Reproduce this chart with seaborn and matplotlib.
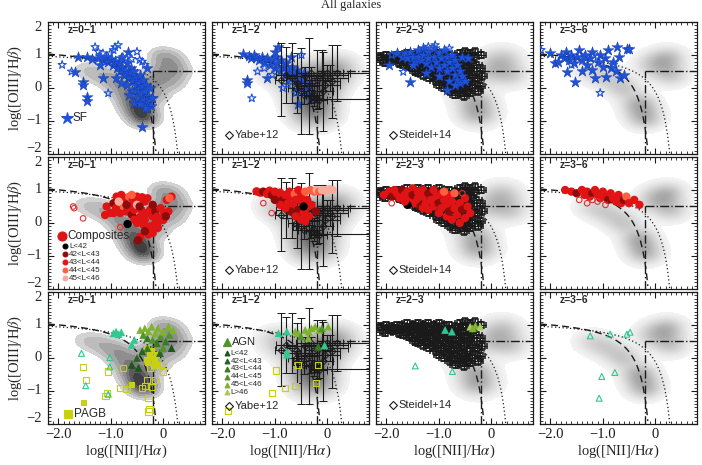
import numpy as np
import matplotlib
matplotlib.use("Agg")
import matplotlib.pyplot as plt
import matplotlib.transforms as mtransforms
import seaborn as sns
from matplotlib.ticker import MultipleLocator, FixedLocator
from matplotlib.colors import LinearSegmentedColormap

# ---------------- data ----------------
z_bins = ["z=0−1", "z=1−2", "z=2−3", "z=3−6"]
y_ticks = [-2, -1, 0, 1, 2]
y_ticklabels = ["−2", "−1", "0", "1", "2"]

# SF galaxies (row 1): filled = detected, open = other
sf_z01 = np.array([[-1.63,0.94],[-1.45,0.93],[-1.35,0.88],[-1.25,0.90],[-1.15,0.85],[-1.10,0.95],[-1.05,0.78],[-1.00,0.88],
    [-0.95,0.70],[-0.92,0.82],[-0.88,0.60],[-0.85,0.75],[-0.82,0.50],[-0.80,0.90],[-0.78,0.65],[-0.75,0.40],[-0.72,0.55],
    [-0.70,0.75],[-0.68,0.30],[-0.65,0.45],[-0.62,0.60],[-0.60,0.20],[-0.58,0.35],[-0.55,0.50],[-0.52,0.10],[-0.50,0.30],
    [-0.48,-0.05],[-0.46,0.15],[-0.44,0.40],[-0.42,-0.20],[-0.40,0.05],[-0.38,0.25],[-0.36,-0.35],[-0.34,-0.10],[-0.32,0.10],
    [-0.30,-0.45],[-0.28,-0.25],[-0.26,0.00],[-0.24,-0.55],[-0.22,-0.30],[-0.50,-0.30],[-0.60,-0.10],[-0.70,0.10],[-0.65,-0.20],
    [-1.53,0.18],[-1.53,0.10],[-1.45,-0.27],[-1.45,-0.38],[-1.68,0.49],[-0.40,-1.17],[-0.30,-0.60],[-0.35,-0.60],[-0.55,-0.45],
    [-0.45,-0.50],[-0.31,0.60],[-0.67,1.10],[-1.15,0.30],[-0.21,-0.30],[-0.90,0.30],[-0.80,0.15],[-1.20,0.70]])
sf_z01_open = np.array([[-1.93,0.70],[-1.30,1.24],[-1.24,1.10],[-1.15,1.05],[-1.01,1.05],[-0.92,1.24],[-0.86,1.30],
    [-0.77,0.94],[-0.70,0.90],[-0.60,0.88],[-0.50,1.10],[-0.45,0.85],[-0.40,0.80],[-1.05,-0.16],[-0.95,1.15],[-1.20,0.95],
    [-0.35,0.70],[-1.75,0.50]])
sf_z12 = np.array([[-1.60,1.04],[-1.50,0.98],[-1.45,0.90],[-1.40,1.00],[-1.35,0.92],[-1.30,0.85],[-1.25,0.95],[-1.20,0.78],
    [-1.15,0.90],[-1.10,0.70],[-1.05,0.85],[-1.00,0.60],[-0.98,0.95],[-0.95,0.75],[-0.90,0.50],[-0.88,0.85],[-0.85,0.65],
    [-0.80,0.40],[-0.78,0.75],[-0.75,0.55],[-0.70,0.30],[-0.68,0.65],[-0.65,0.45],[-0.60,0.20],[-0.58,0.55],[-0.55,0.35],
    [-0.50,0.00],[-0.48,0.25],[-0.45,0.45],[-0.42,-0.10],[-0.40,0.15],[-0.35,-0.20],[-0.33,0.05],[-0.30,-0.30],[-0.56,-0.50],
    [-0.94,1.24],[-1.54,0.24],[-1.54,0.14],[-1.15,0.29],[-1.00,1.10],[-0.70,0.95]])
sf_z12_open = np.array([[-1.44,-0.31],[-1.33,0.50],[-0.49,1.00],[-0.85,0.00],[-0.75,0.10],[-1.20,0.60],[-0.60,-0.15],[-1.05,0.40]])
sf_z23 = np.array([[-1.80,1.05],[-1.70,0.95],[-1.65,1.05],[-1.60,0.90],[-1.55,1.10],[-1.50,0.95],[-1.45,0.80],[-1.40,1.15],
    [-1.40,0.95],[-1.35,0.85],[-1.30,1.20],[-1.30,1.00],[-1.25,0.75],[-1.20,1.10],[-1.20,0.90],[-1.15,0.65],[-1.10,1.20],
    [-1.10,0.95],[-1.05,0.80],[-1.00,1.05],[-1.00,0.60],[-0.95,0.90],[-0.90,0.70],[-0.90,1.15],[-0.85,0.50],[-0.85,0.95],
    [-0.80,0.80],[-0.75,0.60],[-0.75,1.00],[-0.70,0.40],[-0.70,0.85],[-0.65,0.25],[-0.65,0.70],[-0.60,0.50],[-0.60,0.15],
    [-0.55,0.95],[-0.55,0.35],[-0.50,0.20],[-0.85,-0.06],[-1.96,0.70],[-1.55,0.19],[-1.25,0.45],[-1.00,0.35],[-0.80,0.20],
    [-1.50,0.70],[-0.45,0.90],[-0.70,0.10]])
sf_z23_open = np.array([[-1.68,0.49],[-1.07,1.30],[-1.20,1.25],[-0.80,1.20],[-1.90,1.00]])
sf_z36 = np.array([[-2.00,1.05],[-1.91,0.75],[-1.85,0.80],[-1.80,1.00],[-1.75,0.90],[-1.70,1.10],[-1.69,0.49],[-1.65,0.85],
    [-1.60,1.00],[-1.55,0.75],[-1.53,0.19],[-1.50,0.95],[-1.45,1.15],[-1.40,0.85],[-1.35,1.00],[-1.30,0.70],[-1.25,0.90],
    [-1.20,1.10],[-1.20,0.55],[-1.15,0.30],[-1.10,0.80],[-1.05,1.00],[-1.00,0.65],[-0.95,0.90],[-0.93,0.34],[-0.90,1.15],
    [-0.85,0.60],[-0.80,0.80],[-0.75,0.50],[-0.73,1.24],[-0.70,0.95],[-0.67,0.30],[-0.60,0.40],[-0.54,1.19],[-0.50,1.18],
    [-1.40,0.50]])
sf_z36_open = np.array([[-2.18,1.15],[-1.05,-0.15],[-1.35,0.95],[-1.10,0.95],[-0.80,0.70],[-1.60,0.70]])

# Composites (row 2): x, y, luminosity class (0: L<42 ... 4: 45<L<46)
comp_z01 = np.array([[-0.89,0.80,2],[-0.80,0.85,2],[-0.72,0.75,2],[-0.65,0.80,3],[-0.58,0.72,2],[-0.50,0.80,2],[-0.45,0.68,2],
    [-0.40,0.78,2],[-0.35,0.65,2],[-0.30,0.75,2],[-1.08,0.50,2],[-1.01,0.30,2],[-1.11,0.24,2],[-0.95,0.60,1],[-0.90,0.45,2],
    [-0.82,0.30,2],[-0.75,0.50,3],[-0.70,0.35,2],[-0.62,0.50,2],[-0.60,0.25,1],[-0.55,0.40,2],[-0.50,0.55,4],[-0.44,0.19,2],
    [-0.40,0.35,2],[-0.35,0.10,2],[-0.30,0.30,2],[-0.25,0.40,2],[-0.20,0.20,2],[-0.15,0.35,1],[-0.12,0.19,2],[-0.08,0.05,2],
    [0.00,0.09,2],[-0.05,0.45,2],[0.07,0.70,2],[0.16,0.80,2],[0.12,0.75,3],[0.10,0.35,2],[0.02,0.30,2],[-0.31,-0.21,2],
    [-0.44,-0.42,2],[-0.48,-0.52,1],[-0.38,-0.05,2],[-0.25,-0.10,2],[-0.20,-0.30,2],[-0.15,0.00,2],[-0.10,-0.15,2],
    [-0.50,0.00,2],[-0.55,0.10,2],[-0.28,-0.35,2],[-0.68,-0.03,0],[-0.70,0.55,1],[-0.85,0.65,4],[-0.60,0.85,3],
    [-0.45,0.50,1],[-0.95,0.30,2],[-0.20,0.55,1],[0.05,0.20,1],[-0.35,-0.25,1]])
comp_z01_open = np.array([[-1.72,0.50],[-1.53,0.14],[-0.82,-0.13],[-1.70,0.45]])
comp_z12 = np.array([[-1.35,0.96,2],[-1.28,0.92,2],[-1.22,0.95,1],[-1.15,0.88,2],[-1.10,0.98,2],[-1.05,0.85,1],[-1.00,0.95,2],
    [-0.95,0.80,2],[-0.90,0.92,2],[-0.85,0.70,1],[-0.80,0.85,2],[-0.75,0.60,2],[-0.72,0.95,2],[-0.70,0.78,2],[-0.65,0.50,2],
    [-0.62,0.88,3],[-0.60,0.70,2],[-0.55,0.40,1],[-0.55,1.00,2],[-0.50,0.80,2],[-0.48,0.60,2],[-0.45,0.30,2],[-0.42,0.95,3],
    [-0.40,0.45,2],[-0.38,0.70,2],[-0.35,0.20,2],[-0.32,1.00,3],[-0.30,0.55,2],[-0.25,0.95,3],[-0.22,0.35,1],[-0.20,1.00,4],
    [-0.15,0.95,3],[-0.10,1.00,4],[-0.05,0.98,4],[0.00,1.00,4],[0.05,1.02,4],[0.10,1.00,4],[-0.70,0.35,1],[-0.60,0.20,2],
    [-0.50,0.10,2],[-0.90,0.55,2],[-1.00,0.70,1],[-0.80,0.45,2],[-0.42,0.05,2],[-0.45,0.50,0]])
comp_z12_open = np.array([[-1.22,0.60],[-1.06,0.30]])
comp_z23 = np.array([[-2.05,0.85,2],[-1.95,0.95,2],[-1.90,0.80,1],[-1.85,1.00,2],[-1.80,0.90,2],[-1.75,0.75,2],[-1.70,1.00,1],
    [-1.65,0.85,2],[-1.60,0.95,2],[-1.55,0.70,2],[-1.50,1.05,2],[-1.50,0.85,1],[-1.45,0.60,2],[-1.40,0.95,2],[-1.40,0.75,2],
    [-1.35,0.50,1],[-1.30,1.00,2],[-1.30,0.80,2],[-1.25,0.60,2],[-1.20,0.90,1],[-1.20,0.40,2],[-1.15,0.70,2],[-1.10,1.00,2],
    [-1.10,0.50,2],[-1.05,0.80,2],[-1.00,0.60,1],[-1.00,0.30,2],[-0.95,0.90,2],[-0.95,0.45,2],[-0.90,0.70,2],[-0.85,0.20,2],
    [-0.85,0.55,2],[-0.80,0.85,2],[-0.80,0.35,1],[-0.75,0.65,2],[-0.75,0.10,2],[-0.70,0.45,2],[-0.70,0.90,3],[-0.65,0.25,2],
    [-0.60,0.60,2],[-0.60,0.00,2],[-0.55,0.40,1],[-0.50,0.15,2],[-0.50,0.75,2],[-0.45,0.50,2],[-0.40,0.30,2],[-1.60,0.55,0],
    [-0.90,0.95,3],[-1.30,0.45,2],[-1.65,0.65,2]])
comp_z23_open = np.array([[-1.90,0.60],[-0.55,0.90]])
comp_z36 = np.array([[-1.72,1.00,2],[-1.60,0.95,2],[-1.50,0.90,1],[-1.40,1.00,2],[-1.35,0.85,2],[-1.30,0.95,2],[-1.25,0.80,2],
    [-1.20,0.90,1],[-1.15,1.00,2],[-1.10,0.85,2],[-1.05,0.75,2],[-1.00,0.95,2],[-0.95,0.80,2],[-0.90,0.70,1],[-0.85,0.90,2],
    [-0.80,0.75,2],[-0.75,0.65,2],[-0.70,0.85,2],[-0.65,0.60,2],[-0.60,0.70,1],[-0.55,0.80,3],[-0.50,0.60,2],[-0.40,0.70,2],
    [-0.30,0.55,2]])
comp_z36_open = np.array([[-1.45,0.70],[-1.30,0.60],[-1.10,0.65],[-0.95,0.55],[-1.20,0.70]])

# AGN (row 3): x, y, class (0: L<42 ... 5: L>46, 6: no luminosity)
agn_z01 = np.array([[-0.95,0.75,6],[-0.90,0.80,6],[-0.85,0.72,6],[-0.80,0.78,6],[-0.44,0.85,4],[-0.38,0.70,3],[-0.35,0.90,4],
    [-0.30,0.60,2],[-0.28,0.80,4],[-0.22,0.95,4],[-0.20,0.55,3],[-0.15,0.75,4],[-0.12,0.45,2],[-0.10,0.90,4],[-0.05,0.65,3],
    [0.00,0.80,4],[0.05,0.50,2],[0.10,0.95,4],[0.12,0.70,3],[0.19,0.85,4],[0.16,0.30,0],[-0.06,0.15,1],[-0.60,-0.21,0],
    [-0.47,-0.30,0],[-0.50,0.00,1],[-0.30,0.30,2],[-0.40,0.20,1],[0.00,0.30,3],[-0.60,0.40,6],[-0.55,0.55,6]])
agn_z01_open = np.array([[-1.56,0.14],[-1.02,0.01],[-1.02,-0.27],[-1.48,-0.84],[-1.05,-1.10]])
agn_z12 = np.array([[-0.93,0.75,6],[-0.77,0.80,6],[-0.61,0.80,4],[-0.55,0.75,4],[-0.42,0.85,4],[-0.35,0.80,4],[-0.30,0.90,4],
    [-0.23,0.95,4],[-0.15,0.85,4],[-0.10,0.90,3],[0.02,0.95,4],[-0.36,0.60,4],[-0.17,0.34,2],[-0.05,0.38,6],[-0.77,0.19,6],
    [-0.77,0.10,6],[-0.50,0.65,3]])
agn_z12_open = np.zeros((0, 2))
agn_z23 = np.array([[-0.88,0.85,6],[-0.75,0.80,6],[-0.40,0.95,5],[-0.30,0.98,4],[-0.21,0.95,5],[-0.35,0.90,4]])
agn_z23_open = np.array([[-1.45,-0.24],[-0.74,-0.41]])
agn_z36 = np.zeros((0, 3))
agn_z36_open = np.array([[-1.24,0.67],[-0.86,0.72],[-0.54,0.72],[-0.48,0.78],[-0.77,-0.44],[-1.02,-0.56],[-1.07,-1.22]])

# post-AGB (row 3)
pagb_z01 = np.array([[-1.51,-1.35],[-0.60,-0.81],[-0.31,0.30],[-0.25,0.10],[-0.20,0.00],[-0.15,-0.10],[-0.28,-0.15],
    [-0.10,-0.20],[-0.22,0.20],[-0.18,-0.25],[-0.12,0.10],[-0.30,-0.05]])
pagb_z01_open = np.array([[-1.53,-0.28],[-1.47,-0.67],[-1.05,-0.41],[-1.08,-1.07],[-1.10,-1.15],[-0.82,-0.92],[-0.77,-0.31],
    [-0.41,-0.90],[-0.35,-0.85],[-0.31,-0.67],[-0.22,-0.87],[-0.28,-1.22],[-0.28,-1.62],[-0.26,-1.55],[0.00,-0.41],
    [-0.05,-0.25],[-0.16,-0.67],[-0.70,-0.95],[-0.25,-0.30]])
pagb_z12_open = np.array([[-0.55,-0.21],[-0.17,-0.21],[-0.98,-0.38],[-0.61,-0.85],[-0.80,-0.92],[-1.06,-1.07],[-0.21,-0.75],
    [-1.90,-1.60]])

# Yabe+12 (z=1-2): x, y, xerr-, xerr+, yerr-, yerr+
yabe = np.array([[-0.88,0.25,0.12,0.12,1.10,1.10],[-0.78,0.40,0.20,0.20,0.85,0.85],[-0.68,0.30,0.10,0.10,0.75,1.05],
    [-0.58,0.15,0.30,0.30,0.90,0.90],[-0.50,-0.10,0.15,0.15,1.30,1.30],[-0.42,0.35,0.35,0.35,0.30,0.30],
    [-0.35,0.05,0.20,0.20,1.45,1.45],[-0.30,0.45,0.30,0.60,0.20,0.20],[-0.25,-0.20,0.15,0.15,0.35,0.35],
    [-0.20,0.25,0.25,0.25,0.90,0.90],[-0.15,-0.35,0.15,0.15,0.25,0.25],[-0.10,0.40,0.40,0.50,0.75,0.75],
    [-0.08,-0.10,0.20,0.20,1.20,1.20],[-0.05,0.10,0.30,0.30,0.20,0.20],[0.00,0.45,0.30,0.80,0.25,0.25],
    [0.05,0.30,0.35,0.35,0.40,0.40],[0.10,0.20,0.15,0.15,1.10,1.10],[0.18,0.45,0.25,0.25,0.85,0.85],
    [-0.22,-0.32,0.10,1.10,0.10,0.10],[-0.45,-0.20,0.10,0.10,0.30,0.30],[-0.60,0.00,0.15,0.15,0.20,0.20],
    [-0.30,-0.25,0.15,0.15,0.20,0.20]])

# Steidel+14 (z=2-3)
steidel = np.array([[-2.10,0.95],[-2.06,0.84],[-2.00,1.00],[-1.97,0.88],[-2.02,0.77],[-1.91,0.95],[-1.88,0.82],
    [-1.80,1.00],[-1.83,0.90],[-1.77,0.75],[-1.70,0.98],[-1.73,0.85],[-1.68,0.70],[-1.61,1.05],[-1.58,0.92],[-1.63,0.80],
    [-1.57,0.65],[-1.50,1.00],[-1.53,0.88],[-1.47,0.75],[-1.51,0.60],[-1.46,0.50],[-1.40,1.05],[-1.43,0.95],[-1.38,0.82],
    [-1.41,0.70],[-1.36,0.55],[-1.39,0.45],[-1.30,1.00],[-1.33,0.90],[-1.28,0.78],[-1.31,0.65],[-1.27,0.50],[-1.30,0.38],
    [-1.20,1.05],[-1.23,0.95],[-1.18,0.85],[-1.21,0.72],[-1.17,0.60],[-1.22,0.45],[-1.19,0.30],[-1.10,1.00],[-1.13,0.88],
    [-1.08,0.75],[-1.12,0.62],[-1.07,0.50],[-1.11,0.35],[-1.06,0.20],[-1.00,1.05],[-1.03,0.92],[-0.98,0.80],[-1.02,0.68],
    [-0.97,0.55],[-1.01,0.40],[-0.96,0.25],[-1.00,0.10],[-0.90,0.98],[-0.93,0.85],[-0.88,0.72],[-0.92,0.60],[-0.87,0.45],
    [-0.91,0.30],[-0.86,0.15],[-0.90,0.00],[-0.80,1.00],[-0.83,0.88],[-0.78,0.75],[-0.82,0.62],[-0.77,0.50],[-0.81,0.35],
    [-0.76,0.20],[-0.80,0.05],[-0.79,-0.10],[-0.70,0.95],[-0.73,0.82],[-0.68,0.70],[-0.72,0.55],[-0.67,0.40],[-0.71,0.25],
    [-0.66,0.10],[-0.70,-0.05],[-0.69,-0.20],[-0.60,1.05],[-0.63,0.90],[-0.58,0.75],[-0.62,0.60],[-0.57,0.45],[-0.61,0.30],
    [-0.56,0.15],[-0.60,0.00],[-0.59,-0.15],[-0.50,1.10],[-0.53,0.95],[-0.48,0.80],[-0.52,0.65],[-0.47,0.50],[-0.51,0.35],
    [-0.46,0.20],[-0.50,0.05],[-0.49,-0.10],[-0.52,-0.25],[-0.40,1.05],[-0.43,0.90],[-0.38,0.75],[-0.42,0.60],[-0.37,0.40],
    [-0.41,0.20],[-0.36,0.00],[-0.40,-0.15],[-0.30,1.10],[-0.33,0.95],[-0.28,0.70],[-0.32,0.50],[-0.27,0.30],[-0.31,0.10],
    [-0.26,-0.10],[-0.20,1.00],[-0.22,0.60],[-0.18,0.35],[-0.21,0.05]])
steidel_err = 0.1

# grey background (all galaxies): blob centre x, y, weight, width, per z bin
bg_z01 = [(-1.5,0.55,0.22,0.2),(-1.25,0.45,0.3,0.2),(-1.0,0.3,0.42,0.2),(-0.8,0.1,0.55,0.2),(-0.65,-0.2,0.75,0.2),
          (-0.52,-0.5,0.95,0.2),(-0.42,-0.75,1.0,0.2),(-0.35,-0.95,0.75,0.18),(-0.3,0.15,0.5,0.2),(-0.1,0.3,0.5,0.2),
          (0.05,0.6,0.5,0.2),(0.15,0.85,0.45,0.2),(-0.05,1.0,0.35,0.18),(0.3,0.5,0.4,0.18),(0.2,0.15,0.35,0.18),
          (-0.15,-0.2,0.5,0.2)]
bg_z12 = [(-0.95,0.55,0.3,0.3),(-0.6,0.3,0.5,0.3),(-0.1,0.25,0.8,0.3),(-0.3,-0.3,1.0,0.3),(-0.25,-0.8,0.75,0.3),
          (0.15,0.6,0.55,0.3)]
bg_z23 = [(-0.55,0.0,0.3,0.24),(-0.05,0.5,0.45,0.24),(0.2,0.85,0.6,0.25),(0.35,0.4,0.5,0.24),(-0.3,-0.4,0.7,0.24),
          (-0.25,-0.8,0.75,0.24)]
bg_z36 = [(-1.2,0.5,0.3,0.22),(-0.9,0.3,0.35,0.22),(-0.6,0.0,0.45,0.22),(-0.3,-0.5,0.7,0.22),(-0.2,-0.9,0.65,0.22),
          (0.0,0.7,0.5,0.24),(0.25,0.9,0.5,0.22),(0.3,0.4,0.45,0.22)]

# demarcation curves
kauffmann = (0.61, 0.05, 1.30)
kewley = (0.61, 0.47, 1.19)

SF_BLUE = "#1f52d8"
COMP_COLORS = {0: "#000000", 1: "#8e0b0b", 2: "#e01414", 3: "#ff5e3f", 4: "#f6aa9a"}
AGN_COLORS = {0: "#1b561b", 1: "#25661f", 2: "#357c25", 3: "#52932a", 4: "#80b232", 5: "#a9c95e", 6: "#2fc88e"}
PAGB_YELLOW = "#c8d012"

sns.set_theme(style="ticks")
plt.rcParams["font.family"] = ["Liberation Serif", "DejaVu Serif"]
plt.rcParams["mathtext.fontset"] = "stix"

gx = np.linspace(-2.2, 0.8, 240)
gy = np.linspace(-2.0, 2.0, 300)
GX, GY = np.meshgrid(gx, gy)


def background(ax, blobs, col):
    d = np.zeros_like(GX)
    for x0, y0, w, s in blobs:
        d += w * np.exp(-((GX - x0) ** 2 + (GY - y0) ** 2) / (2 * s * s))
    d /= d.max()
    if col == 0:
        ax.contourf(GX, GY, d, levels=[0.1, 0.2, 0.32, 0.46, 0.6, 0.74, 0.88, 1.01],
                    colors=["#d2d2d2", "#bcbcbc", "#a5a5a5", "#8e8e8e", "#767676", "#5b5b5b", "#404040"], zorder=0)
    else:
        dark = "#5e5e5e" if col == 1 else "#a4a4a4"
        cmap = LinearSegmentedColormap.from_list("g", ["#f4f4f4", dark])
        ax.contourf(GX, GY, d, levels=np.linspace(0.06, 1.01, 30), cmap=cmap, zorder=0)


def demarcation(ax):
    a, b, c = kauffmann
    x = np.linspace(-2.2, -0.14, 400)
    ax.plot(x, a / (x - b) + c, color="k", ls=(0, (5, 3)), lw=1.0, zorder=2)
    a, b, c = kewley
    x = np.linspace(-2.2, 0.29, 400)
    ax.plot(x, a / (x - b) + c, color="k", ls=(0, (1, 2)), lw=0.9, zorder=2)
    ax.plot([-0.2, 0.8], [0.5, 0.5], color="k", ls="-.", lw=1.0, zorder=2)
    ax.plot([-0.2, -0.2], [-2.0, 0.5], color="k", ls=(0, (6, 2, 1, 2)), lw=1.0, zorder=2)


def key(ax, x, y, marker, color, text, ms, fs, filled=True, dx=0.035, family="Liberation Sans"):
    ax.plot([x], [y], marker=marker, ms=ms, color=color, mfc=color if filled else "none", mec=color,
            mew=0.8, ls="none", transform=ax.transAxes, zorder=6)
    ax.text(x + dx, y, text, transform=ax.transAxes, fontsize=fs, va="center", ha="left", family=family, zorder=6)


def hollow(ax, pts, marker, color, s, lw=0.8):
    if len(pts):
        ax.scatter(pts[:, 0], pts[:, 1], marker=marker, s=s, facecolors="none", edgecolors=color, linewidths=lw, zorder=5)


fig, axes = plt.subplots(3, 4, figsize=(7.02, 4.65), dpi=100)
fig.subplots_adjust(left=0.0684, right=0.9929, bottom=0.0882, top=0.9527, wspace=0.0446, hspace=0.0227)

sf_sets = [(sf_z01, sf_z01_open), (sf_z12, sf_z12_open), (sf_z23, sf_z23_open), (sf_z36, sf_z36_open)]
comp_sets = [(comp_z01, comp_z01_open), (comp_z12, comp_z12_open), (comp_z23, comp_z23_open), (comp_z36, comp_z36_open)]
agn_sets = [(agn_z01, agn_z01_open), (agn_z12, agn_z12_open), (agn_z23, agn_z23_open), (agn_z36, agn_z36_open)]
backgrounds = [bg_z01, bg_z12, bg_z23, bg_z36]

for r in range(3):
    for c in range(4):
        ax = axes[r, c]
        background(ax, backgrounds[c], c)
        demarcation(ax)

        if c == 1:
            ax.errorbar(yabe[:, 0], yabe[:, 1], xerr=[yabe[:, 2], yabe[:, 3]], yerr=[yabe[:, 4], yabe[:, 5]],
                        fmt="D", ms=3.5, mfc="none", mec="k", mew=0.7, ecolor="0.1", elinewidth=0.8,
                        capsize=3, capthick=0.8, zorder=5 if r == 0 else 3)
        if c == 2:
            ax.errorbar(steidel[:, 0], steidel[:, 1], xerr=steidel_err, yerr=steidel_err, fmt="s", ms=4.6,
                        mfc="none", mec="k", mew=1.1, ecolor="k", elinewidth=0.8, capsize=2, zorder=3)

        if r == 0:
            filled, opn = sf_sets[c]
            sns.scatterplot(x=filled[:, 0], y=filled[:, 1], marker="*", s=70, color=SF_BLUE, linewidth=0.3,
                            edgecolor="#1238a0", ax=ax, zorder=4, legend=False)
            hollow(ax, opn, "*", SF_BLUE, 38)
        elif r == 1:
            filled, opn = comp_sets[c]
            sns.scatterplot(x=filled[:, 0], y=filled[:, 1], hue=filled[:, 2].astype(int), palette=COMP_COLORS,
                            marker="o", s=36, linewidth=0, ax=ax, zorder=4, legend=False)
            hollow(ax, opn, "o", "#e03030", 16)
        else:
            filled, opn = agn_sets[c]
            if c == 0:
                sns.scatterplot(x=pagb_z01[:, 0], y=pagb_z01[:, 1], marker="s", s=24, color=PAGB_YELLOW,
                                linewidth=0, ax=ax, zorder=4, legend=False)
                hollow(ax, pagb_z01_open, "s", PAGB_YELLOW, 20)
            if c == 1:
                hollow(ax, pagb_z12_open, "s", PAGB_YELLOW, 20)
            if len(filled):
                sns.scatterplot(x=filled[:, 0], y=filled[:, 1], hue=filled[:, 2].astype(int), palette=AGN_COLORS,
                                marker="^", s=32, linewidth=0, ax=ax, zorder=4, legend=False)
            hollow(ax, opn, "^", AGN_COLORS[6], 18)

        ax.set_xlim(-2.2, 0.8)
        ax.set_ylim(-2.0, 2.0)
        ax.xaxis.set_major_locator(FixedLocator([-2.0, -1.0, 0.0]))
        ax.xaxis.set_minor_locator(MultipleLocator(0.1))
        ax.yaxis.set_major_locator(FixedLocator(y_ticks))
        ax.yaxis.set_minor_locator(MultipleLocator(0.1))
        ax.tick_params(which="both", direction="in", top=True, right=True, colors="k", labelsize=10.5, pad=3)
        ax.tick_params(which="major", length=4, width=0.8)
        ax.tick_params(which="minor", length=2, width=0.6)
        for sp in ax.spines.values():
            sp.set_color("k")
            sp.set_linewidth(0.9)
        ax.set_xlabel("")
        ax.set_ylabel("")
        ax.set_yticklabels([])
        if r == 2:
            ax.set_xticklabels(["−2.0", "−1.0", "0"])
            ax.set_xlabel(r"log([NII]/H$\alpha$)", fontsize=10.5, labelpad=1)
        else:
            ax.set_xticklabels([])
        if c == 0:
            # y tick labels written by hand so the end labels sit slightly inside the frame
            trans = mtransforms.blended_transform_factory(ax.transAxes, ax.transData)
            for v, lab in zip(y_ticks, y_ticklabels):
                shift = 0.16 if v == -2 else (-0.16 if v == 2 else 0.0)
                ax.text(-0.04, v + shift, lab, transform=trans, ha="right", va="center", fontsize=10.5)
            ax.set_ylabel(r"log([OIII]/H$\beta$)", fontsize=10.5, labelpad=14)
        ax.text(0.127, 0.94, z_bins[c], transform=ax.transAxes, fontsize=7.5, fontweight="bold",
                family="Liberation Sans", va="center", ha="left", zorder=6)

        if c == 1:
            yk = 0.136 if r == 2 else 0.144
            key(ax, 0.11, yk, "D", "k", "Yabe+12", 4, 8, filled=False)
        if c == 2:
            key(ax, 0.11, 0.144, "D", "k", "Steidel+14", 4, 8, filled=False)

# legends
key(axes[0, 0], 0.12, 0.27, "*", SF_BLUE, "SF", 9, 8.5)
ax = axes[1, 0]
key(ax, 0.087, 0.40, "o", COMP_COLORS[2], "Composites", 6.5, 8.5)
comp_labels = ["L<42", "42<L<43", "43<L<44", "44<L<45", "45<L<46"]
for i, (lab, yy) in enumerate(zip(comp_labels, [0.322, 0.262, 0.202, 0.142, 0.082])):
    key(ax, 0.11, yy, "o", COMP_COLORS[i], lab, 3.5, 5.8, dx=0.025)
key(axes[2, 0], 0.13, 0.075, "s", PAGB_YELLOW, "PAGB", 6, 8.5)
ax = axes[2, 1]
key(ax, 0.094, 0.62, "^", AGN_COLORS[3], "AGN", 6, 8)
agn_labels = ["L<42", "42<L<43", "43<L<44", "44<L<45", "45<L<46", "L>46"]
for i, (lab, yy) in enumerate(zip(agn_labels, [0.535, 0.476, 0.417, 0.358, 0.299, 0.240])):
    key(ax, 0.094, yy, "^", AGN_COLORS[i], lab, 3.5, 5.8, dx=0.025)

fig.text(0.5, 0.99, "All galaxies", fontsize=9, ha="center", va="center")
fig.savefig("out.png", dpi=100)
